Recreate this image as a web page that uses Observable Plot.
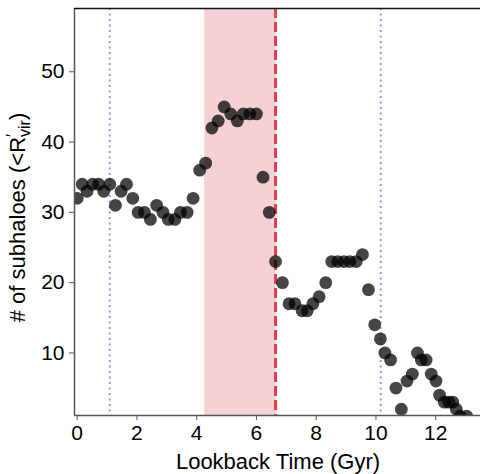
<!DOCTYPE html>
<html><head><meta charset="utf-8">
<script src="https://cdn.jsdelivr.net/npm/d3@7"></script>
<script src="https://cdn.jsdelivr.net/npm/@observablehq/plot@0.6"></script>
<style>body{margin:0;background:#fff}</style>
</head><body><div id="chart"></div>
<script>
const lookback = [0.0,0.17,0.33,0.52,0.72,0.89,1.09,1.28,1.47,1.65,1.86,2.04,2.25,2.45,2.66,2.87,3.05,3.27,3.46,3.68,3.88,4.1,4.3,4.51,4.72,4.92,5.14,5.36,5.56,5.78,6.0,6.22,6.43,6.64,6.87,7.09,7.29,7.53,7.70,7.89,8.10,8.32,8.52,8.72,8.93,9.13,9.34,9.55,9.75,9.96,10.15,10.3,10.49,10.67,10.85,11.04,11.22,11.39,11.52,11.68,11.85,12.01,12.13,12.29,12.44,12.57,12.69,12.82,13.04];
const counts = [32,34,33,34,34,33,34,31,33,34,32,30,30,29,31,30,29,29,30,30,32,36,37,42,43,45,44,43,44,44,44,35,30,23,20,17,17,16,16,17,18,20,23,23,23,23,23,24,19,14,12,10,9,5,2,6,7,10,9,9,7,6,4,3,3,3,2,1,1];
const xTicks = [0,2,4,6,8,10,12];
const yTicks = [10,20,30,40,50];
const band = [{start: 4.27, end: 6.64}];
const dashedLine = [6.64];
const dottedLines = [1.09, 10.16];
const xDomain = [-0.09, 13.5];
const yDomain = [1.1, 59];
const xLabel = "Lookback Time (Gyr)";

const data = lookback.map((t, i) => ({t, n: counts[i]}));
const W = 480, H = 474, mL = 74, mR = 0, mT = 8, mB = 59;
const font = "'Liberation Sans', Arial, sans-serif";

const chart = Plot.plot({
  width: W, height: H,
  marginLeft: mL, marginRight: mR, marginTop: mT, marginBottom: mB,
  style: {fontFamily: font, fontSize: "21px", color: "#000", background: "#fff", overflow: "visible"},
  x: {domain: xDomain},
  y: {domain: yDomain},
  marks: [
    Plot.rect(band, {x1: "start", x2: "end", fill: "#f5d1d5"}),
    Plot.ruleX(dottedLines, {stroke: "#b08fdc", strokeWidth: 2, strokeDasharray: "2,3.5"}),
    Plot.ruleX(dashedLine, {stroke: "#e53e48", strokeWidth: 3, strokeDasharray: "10,4"}),
    Plot.dot(data, {x: "t", y: "n", r: 6.4, fill: "black", fillOpacity: 0.73, stroke: "none", clip: true}),
    Plot.ruleX([xDomain[0]], {stroke: "#555", strokeWidth: 1.5}),
    Plot.ruleY([yDomain[0]], {stroke: "#555", strokeWidth: 1.5}),
    Plot.ruleY([yDomain[1]], {stroke: "#111", strokeWidth: 1.5}),
    Plot.axisX({ticks: xTicks, tickSize: 5, tickPadding: 5, label: null, stroke: "#555", fontSize: 21}),
    Plot.axisY({ticks: yTicks, tickSize: 5, tickPadding: 5, label: null, stroke: "#555", fontSize: 21})
  ]
});
document.getElementById("chart").appendChild(chart);

const svg = d3.select(chart);
svg.append("text")
  .attr("x", (mL + W - mR) / 2 + 1)
  .attr("y", H - 5)
  .attr("text-anchor", "middle")
  .attr("font-family", font)
  .attr("font-size", 22)
  .attr("fill", "#000")
  .text(xLabel);

const yl = svg.append("text")
  .attr("transform", `translate(25,${(mT + H - mB) / 2 + 6}) rotate(-90)`)
  .attr("text-anchor", "middle")
  .attr("font-family", font)
  .attr("font-size", 22)
  .attr("fill", "#000");
yl.append("tspan").text("# of subhaloes (<R");
yl.append("tspan").attr("font-size", 16).attr("dy", -7).text("′");
yl.append("tspan").attr("font-size", 16).attr("dx", -3).attr("dy", 12).text("vir");
yl.append("tspan").attr("dy", -5).text(")");
</script>
</body></html>
